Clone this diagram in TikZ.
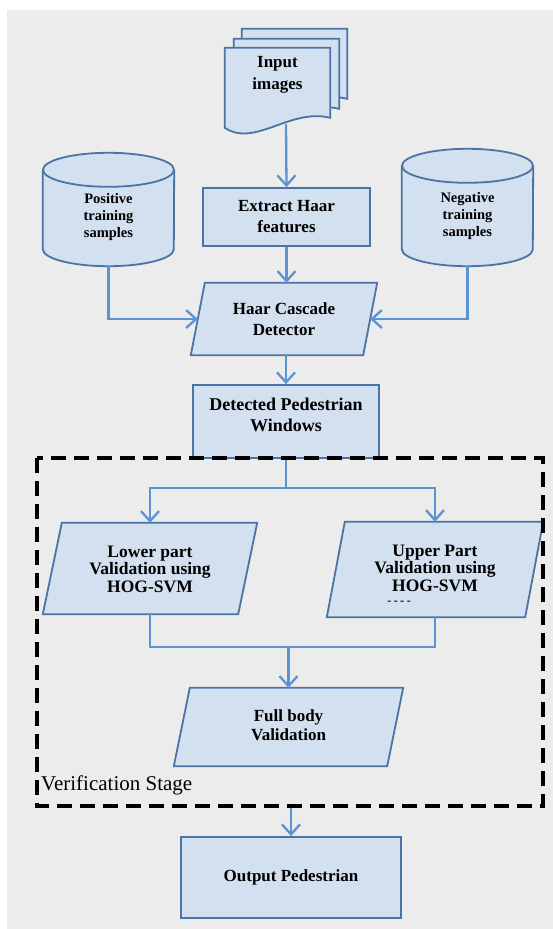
\documentclass[tikz,border=0pt]{standalone}
\usepackage{fontspec}
\setmainfont{Liberation Serif}
\usetikzlibrary{arrows.meta,calc}
\definecolor{bgcol}{HTML}{ECECEC}
\definecolor{boxfill}{HTML}{D3E0EF}
\definecolor{boxline}{HTML}{4A73A6}
\definecolor{arrcol}{HTML}{5B93D3}
\tikzset{
  rectbox/.style={draw=boxline, fill=boxfill, line width=1.8pt, inner sep=0pt, align=center, font=\bfseries\fontsize{17}{21}\selectfont},
  paraline/.style={draw=boxline, fill=boxfill, line width=1.8pt, line join=miter},
  arr/.style={draw=arrcol, line width=2.3pt, -{Straight Barb[length=10pt,width=18pt]}},
  conn/.style={draw=arrcol, line width=2.3pt},
  lbl/.style={align=center, inner sep=0pt},
}
\begin{document}
\begin{tikzpicture}[x=1pt,y=-1pt]
\useasboundingbox (0,0) rectangle (553,929);
\fill[white] (0,0) rectangle (553,929);
\fill[bgcol] (7,10) rectangle (553,929);

% ---- Input images (document stack)
\node[minimum width=105pt, minimum height=89pt, inner sep=0pt] (inp) at (277.5,92.5) {};
\foreach \dx/\dy in {17/-19, 9/-9, 0/0}{
  \draw[paraline] ($(inp.north west)+(\dx,\dy)$) -- ($(inp.north east)+(\dx,\dy)$)
     -- ($(inp.north east)+(\dx,\dy+70)$)
     .. controls ($(inp.north west)+(\dx+65,\dy+60)$) and ($(inp.north west)+(\dx+30,\dy+100)$) .. ($(inp.north west)+(\dx,\dy+80)$) -- cycle;
}
\node[lbl, font=\bfseries\fontsize{17}{22}\selectfont] (inpt) at (277.5,75) {Input\\images};
\coordinate (inpb) at (286,124);

% ---- Extract Haar features
\node[rectbox, minimum width=167pt, minimum height=58pt] (ext) at (286.5,217) {Extract Haar\\features};

% ---- Cylinders
\node[minimum width=131pt, minimum height=113pt, inner sep=0pt] (pos) at (108.5,209.5) {};
\fill[boxfill] ($(pos.north west)+(0,17)$) rectangle ($(pos.south east)+(0,-17)$);
\fill[boxfill] ($(pos.south)+(0,-17)$) ellipse [x radius=65.5pt, y radius=17pt];
\draw[boxline, line width=1.8pt] ($(pos.north west)+(0,17)$) -- ($(pos.south west)+(0,-17)$) arc[start angle=180, end angle=360, x radius=65.5pt, y radius=17pt] -- ($(pos.north east)+(0,17)$);
\draw[paraline] ($(pos.north)+(0,17)$) ellipse [x radius=65.5pt, y radius=17pt];
\node[lbl, font=\bfseries\fontsize{14.5}{17}\selectfont] (post) at (108.5,217) {Positive\\training\\samples};

\node[minimum width=131pt, minimum height=117pt, inner sep=0pt] (neg) at (467.5,207.5) {};
\fill[boxfill] ($(neg.north west)+(0,17)$) rectangle ($(neg.south east)+(0,-17)$);
\fill[boxfill] ($(neg.south)+(0,-17)$) ellipse [x radius=65.5pt, y radius=17pt];
\draw[boxline, line width=1.8pt] ($(neg.north west)+(0,17)$) -- ($(neg.south west)+(0,-17)$) arc[start angle=180, end angle=360, x radius=65.5pt, y radius=17pt] -- ($(neg.north east)+(0,17)$);
\draw[paraline] ($(neg.north)+(0,17)$) ellipse [x radius=65.5pt, y radius=17pt];
\node[lbl, font=\bfseries\fontsize{14.5}{17}\selectfont] (negt) at (467.5,216) {Negative\\training\\samples};

% ---- Haar Cascade Detector (parallelogram)
\node[minimum width=186pt, minimum height=72pt, inner sep=0pt] (haar) at (284,319) {};
\draw[paraline] ($(haar.north west)+(14,0)$) -- (haar.north east) -- ($(haar.south east)+(-14,0)$) -- (haar.south west) -- cycle;
\node[lbl, font=\bfseries\fontsize{17}{21}\selectfont] (haart) at (284,319) {Haar Cascade\\Detector};

% ---- Detected Pedestrian Windows
\node[rectbox, minimum width=186pt, minimum height=73pt] (det) at (286,421.5) {};
\node[lbl, font=\bfseries\fontsize{18}{20.5}\selectfont] (dett) at (286,415) {Detected Pedestrian\\Windows};

% ---- Lower part
\node[minimum width=214pt, minimum height=91pt, inner sep=0pt] (lower) at (150,568.5) {};
\draw[paraline] ($(lower.north west)+(19,0)$) -- (lower.north east) -- ($(lower.south east)+(-19,0)$) -- (lower.south west) -- cycle;
\node[lbl, font=\bfseries\fontsize{17.5}{17.5}\selectfont] (lowert) at (150,569) {Lower part\\Validation using\\HOG-SVM};

% ---- Upper part
\node[minimum width=216pt, minimum height=95pt, inner sep=0pt] (upper) at (435,569.5) {};
\draw[paraline] ($(upper.north west)+(18,0)$) -- (upper.north east) -- ($(upper.south east)+(-18,0)$) -- (upper.south west) -- cycle;
\node[lbl, font=\bfseries\fontsize{17.5}{17.5}\selectfont] (uppert) at (435,568) {Upper Part\\Validation using\\HOG-SVM};
\node[lbl, font=\bfseries\fontsize{12}{12}\selectfont] (dots) at (399,603) {-\hspace{2.5pt}-\hspace{2.5pt}-\hspace{2.5pt}-};

% ---- Full body
\node[minimum width=229pt, minimum height=78pt, inner sep=0pt] (full) at (288.5,727) {};
\draw[paraline] ($(full.north west)+(16,0)$) -- (full.north east) -- ($(full.south east)+(-16,0)$) -- (full.south west) -- cycle;
\node[lbl, font=\bfseries\fontsize{17}{19}\selectfont] (fullt) at (288.5,725) {Full body\\Validation};

% ---- Output
\node[rectbox, minimum width=220pt, minimum height=81pt, font=\bfseries\fontsize{17}{20}\selectfont] (out) at (291,877.5) {Output Pedestrian};

% ---- Connectors
\draw[arr] (inpb) -- (ext.north);
\draw[arr] (ext.south) -- (ext.south |- haar.north);
\draw[arr] (det.north |- haar.south) -- (det.north);
\draw[arr] (pos.south) |- ($(haar.west)+(7,0)$);
\draw[arr] (neg.south) |- ($(haar.east)+(-7,0)$);
\coordinate (split) at ($(det.south)+(0,29)$);
\draw[conn] (det.south) -- (split);
\draw[arr] (split) -| (lower.north);
\draw[arr] (split) -| (upper.north);
\coordinate (merge) at ($(full.north)+(0,-41)$);
\draw[conn] (lower.south) |- (merge);
\draw[conn] (upper.south) |- (merge);
\draw[arr] (merge) -- (full.north);
\coordinate (vb) at (291,806);
\draw[arr] (vb) -- (out.north);

% ---- Verification stage box
\draw[black, line width=3.5pt, dash pattern=on 15pt off 8pt] (37,458) rectangle (543,806);
\node[anchor=west, inner sep=0pt, font=\fontsize{21}{24}\selectfont] (vs) at (41,785) {Verification Stage};
\end{tikzpicture}
\end{document}
